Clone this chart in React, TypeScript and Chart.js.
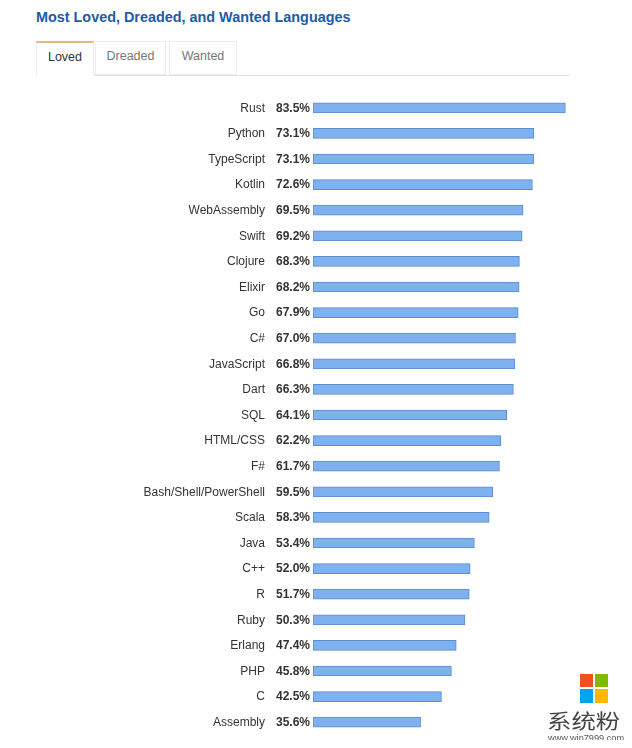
import React, { useEffect, useRef } from "react";
import { Chart, registerables } from "chart.js";

Chart.register(...registerables);

const languages = [
  "Rust", "Python", "TypeScript", "Kotlin", "WebAssembly", "Swift", "Clojure", "Elixir", "Go", "C#",
  "JavaScript", "Dart", "SQL", "HTML/CSS", "F#", "Bash/Shell/PowerShell", "Scala", "Java", "C++", "R",
  "Ruby", "Erlang", "PHP", "C", "Assembly",
];
const lovedPercent = [
  83.5, 73.1, 73.1, 72.6, 69.5, 69.2, 68.3, 68.2, 67.9, 67.0,
  66.8, 66.3, 64.1, 62.2, 61.7, 59.5, 58.3, 53.4, 52.0, 51.7,
  50.3, 47.4, 45.8, 42.5, 35.6,
];
const tabLabels = ["Loved", "Dreaded", "Wanted"];
const titleText = "Most Loved, Dreaded, and Wanted Languages";

const FONT = "'Liberation Sans', Arial, Helvetica, sans-serif";

const labelPlugin = {
  id: "rowLabels",
  afterDatasetsDraw(chart: any) {
    const ctx = chart.ctx;
    const meta = chart.getDatasetMeta(0);
    const left = chart.chartArea.left;
    ctx.save();
    ctx.textAlign = "right";
    ctx.textBaseline = "middle";
    meta.data.forEach((el: any, i: number) => {
      const y = el.y + 0.5;
      ctx.font = `12px ${FONT}`;
      ctx.fillStyle = "#333333";
      ctx.fillText(String(chart.data.labels[i]), left - 48, y);
      ctx.font = `bold 12px ${FONT}`;
      ctx.fillStyle = "#333333";
      ctx.fillText(lovedPercent[i].toFixed(1) + "%", left - 3, y);
    });
    ctx.restore();
  },
};

export default function App() {
  const canvasRef = useRef<HTMLCanvasElement | null>(null);

  useEffect(() => {
    if (!canvasRef.current) return;
    const chart = new Chart(canvasRef.current, {
      type: "bar",
      data: {
        labels: languages,
        datasets: [
          {
            data: lovedPercent,
            backgroundColor: "#7db1ef",
            borderColor: "#5b8bd0",
            borderWidth: 1,
            borderSkipped: false,
            barThickness: 10,
          },
        ],
      },
      options: {
        indexAxis: "y",
        animation: false,
        responsive: false,
        maintainAspectRatio: false,
        devicePixelRatio: 1,
        layout: { padding: { top: 13, bottom: 13, left: 0, right: 45 } },
        plugins: {
          legend: { display: false },
          tooltip: { enabled: false },
          title: { display: false },
        },
        scales: {
          x: { display: false, min: 0, max: 90 },
          y: {
            grid: { display: false, drawTicks: false },
            border: { display: false },
            ticks: { display: false, autoSkip: false },
            afterFit(scale: any) {
              scale.width = 313;
              scale.paddingTop = 0;
              scale.paddingBottom = 0;
            },
          },
        },
      },
      plugins: [labelPlugin],
    } as any);
    return () => chart.destroy();
  }, []);

  const tabPos = [
    { left: 28, width: 58 },
    { left: 87, width: 71 },
    { left: 161, width: 68 },
  ];

  return (
    <div style={{ position: "relative", width: 616, height: 732, fontFamily: FONT }}>
      <div
        style={{
          position: "absolute",
          left: 28,
          top: 0,
          fontSize: 14.4,
          fontWeight: "bold",
          color: "#1c5ba8",
          whiteSpace: "nowrap",
          lineHeight: "18px",
        }}
      >
        {titleText}
      </div>
      <div
        style={{
          position: "absolute",
          left: 28,
          top: 67,
          width: 534,
          height: 0,
          borderTop: "1px solid #e2e2e2",
        }}
      />
      {tabLabels.map((t, i) => (
        <div
          key={t}
          style={{
            position: "absolute",
            left: tabPos[i].left,
            top: 33,
            width: tabPos[i].width,
            height: i === 0 ? 35 : 34,
            boxSizing: "border-box",
            border: "1px solid #ececec",
            borderTop: i === 0 ? "2px solid #e6b877" : "1px solid #ececec",
            borderBottom: i === 0 ? "none" : "1px solid #ececec",
            background: "#ffffff",
            color: i === 0 ? "#333333" : "#777777",
            fontSize: 12.5,
            textAlign: "center",
            lineHeight: "29px",
          }}
        >
          {t}
        </div>
      ))}
      <canvas
        ref={canvasRef}
        width={630}
        height={666}
        style={{ position: "absolute", left: -8, top: 74, width: 630, height: 666 }}
      />
      <div style={{ position: "absolute", left: 572, top: 666, width: 28, height: 29 }}>
        <div style={{ position: "absolute", left: 0, top: 0, width: 13, height: 13, background: "#f25022" }} />
        <div style={{ position: "absolute", left: 15, top: 0, width: 13, height: 13, background: "#7fba00" }} />
        <div style={{ position: "absolute", left: 0, top: 15, width: 13, height: 14, background: "#00a4ef" }} />
        <div style={{ position: "absolute", left: 15, top: 15, width: 13, height: 14, background: "#ffb900" }} />
      </div>
      <div
        style={{
          position: "absolute",
          left: 539,
          top: 701,
          fontSize: 20,
          fontFamily: "'Noto Sans CJK SC', sans-serif",
          color: "#444444",
          whiteSpace: "nowrap",
          lineHeight: "24px",
          transform: "scaleX(1.22)",
          transformOrigin: "left center",
        }}
      >
        系统粉
      </div>
      <div
        style={{
          position: "absolute",
          left: 540,
          top: 725,
          fontSize: 9.2,
          color: "#555555",
          whiteSpace: "nowrap",
          lineHeight: "11px",
        }}
      >
        www.win7999.com
      </div>
    </div>
  );
}
